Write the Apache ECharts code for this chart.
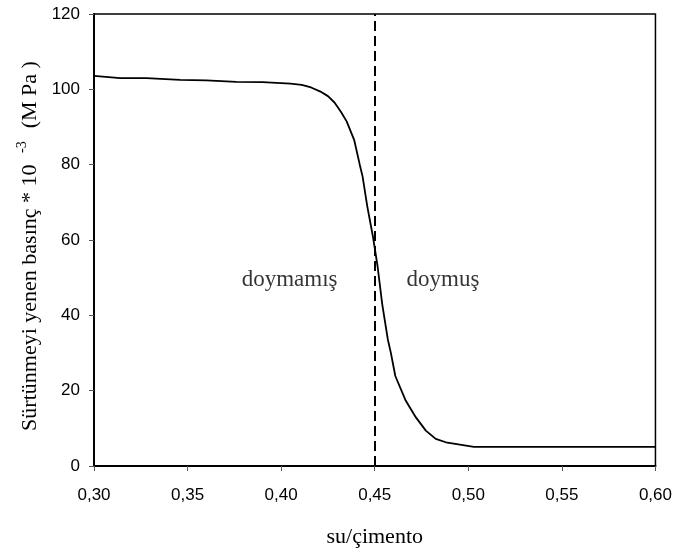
<!DOCTYPE html>
<html>
<head>
<meta charset="utf-8">
<script src="https://cdn.jsdelivr.net/npm/echarts@6/dist/echarts.min.js"></script>
<style>html,body{margin:0;padding:0;background:#fff;}#c{width:675px;height:553px;}</style>
</head>
<body>
<div id="c"></div>
<script>
// su/çimento oranı
var xValues = [0.300, 0.314, 0.328, 0.346, 0.360, 0.376, 0.390, 0.405, 0.411, 0.416, 0.421, 0.425, 0.4285, 0.432, 0.435, 0.439, 0.442, 0.4435, 0.446, 0.449, 0.4515, 0.454, 0.457, 0.4586, 0.461, 0.4666, 0.472, 0.4773, 0.4826, 0.488, 0.503, 0.550, 0.600];
// Sürtünmeyi yenen basınç * 10^-3 (MPa)
var yValues = [103.6, 103.0, 103.0, 102.5, 102.4, 102.0, 101.9, 101.5, 101.2, 100.5, 99.4, 98.2, 96.5, 94.0, 91.5, 86.6, 80.0, 76.9, 69.0, 61.0, 53.1, 43.0, 33.6, 30.1, 23.9, 17.3, 12.9, 9.4, 7.2, 6.3, 5.1, 5.1, 5.1];
var xTicks = {min: 0.30, max: 0.60, interval: 0.05};
var yTicks = {min: 0, max: 120, interval: 20};
var boundaryX = 0.45;
var regionLabels = ['doymamış', 'doymuş'];
var regionLabelX = [0.4045, 0.4865];
var regionLabelY = [49.5, 49.5];

var chart = echarts.init(document.getElementById('c'));
var serif = 'Liberation Serif';
var sans = 'Liberation Sans';
chart.setOption({
  animation: false,
  backgroundColor: '#fff',
  grid: {left: 94, right: 18, top: 14, bottom: 86, show: true, borderColor: '#000', borderWidth: 1.5, backgroundColor: 'transparent'},
  xAxis: {
    type: 'value', min: xTicks.min, max: xTicks.max, interval: xTicks.interval,
    name: 'su/çimento', nameLocation: 'middle', nameGap: 60,
    nameTextStyle: {fontFamily: serif, fontSize: 22, color: '#000'},
    axisLine: {show: true, lineStyle: {color: '#000', width: 2}},
    axisTick: {show: true, inside: false, length: 5, lineStyle: {color: '#555', width: 1}},
    axisLabel: {margin: 21, fontFamily: sans, fontSize: 17, color: '#000',
      formatter: function (v) { return v.toFixed(2).replace('.', ','); }},
    splitLine: {show: false}
  },
  yAxis: {
    type: 'value', min: yTicks.min, max: yTicks.max, interval: yTicks.interval,
    name: '{a|Sürtünmeyi yenen basınç * 10 }{s|-3}{a|  (M Pa )}', nameLocation: 'middle', nameGap: 50,
    nameTextStyle: {fontFamily: serif, fontSize: 22, color: '#000', padding: [0, 12, 0, 0],
      rich: {a: {fontFamily: serif, fontSize: 22, color: '#000'},
             s: {fontFamily: serif, fontSize: 14, color: '#000', padding: [0, 2, 14, 6]}}},
    axisLine: {show: true, lineStyle: {color: '#000', width: 2}},
    axisTick: {show: true, inside: false, length: 5, lineStyle: {color: '#555', width: 1}},
    axisLabel: {margin: 14, fontFamily: sans, fontSize: 17, color: '#000'},
    splitLine: {show: false}
  },
  series: [{
    type: 'line',
    data: xValues.map(function (x, i) { return [x, yValues[i]]; }),
    showSymbol: false, symbol: 'none', smooth: false,
    lineStyle: {color: '#000', width: 1.8},
    markLine: {
      silent: true, symbol: 'none', label: {show: false},
      lineStyle: {color: '#000', width: 2, type: [10, 5]},
      data: [{xAxis: boundaryX}]
    },
    z: 3
  }, {
    type: 'scatter', symbolSize: 0,
    data: regionLabels.map(function (t, i) { return {value: [regionLabelX[i], regionLabelY[i]], name: t}; }),
    label: {show: true, position: 'inside', formatter: '{b}', fontFamily: serif, fontSize: 23, color: '#000'},
    silent: true
  }]
});
</script>
</body>
</html>
